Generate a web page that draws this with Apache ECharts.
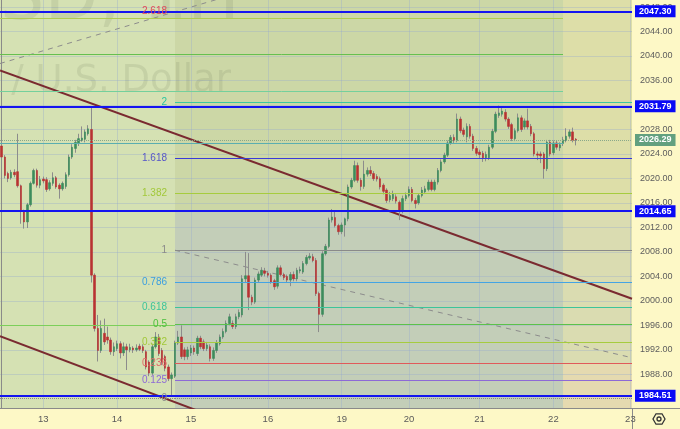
<!DOCTYPE html>
<html><head><meta charset="utf-8">
<script src="https://cdn.jsdelivr.net/npm/echarts@6/dist/echarts.min.js"></script>
<style>html,body{margin:0;padding:0;background:#fdf8c6;}#c{width:680px;height:429px;}</style>
</head><body><div id="c"></div>
<script>
// ---- data (XAUUSD, 1H) ----
const opens = [2025.3,2023.5,2020.8,2020.1,2021.0,2021.1,2018.8,2014.6,2012.9,2015.7,2019.2,2021.3,2018.9,2019.9,2019.8,2018.3,2019.2,2020.1,2018.9,2018.3,2018.7,2020.6,2023.5,2024.9,2025.7,2026.2,2026.4,2027.3,2028.0,2004.2,1995.5,1991.9,1994.7,1994.1,1993.6,1991.7,1992.2,1993.0,1991.5,1992.5,1992.0,1992.3,1992.0,1992.6,1992.5,1991.7,1990.0,1988.2,1992.5,1994.1,1991.9,1990.9,1989.2,1987.3,1987.7,1993.1,1994.1,1992.0,1990.9,1991.5,1992.3,1991.4,1993.9,1993.3,1992.2,1992.5,1990.6,1991.9,1993.0,1994.1,1995.0,1996.3,1996.3,1995.8,1997.4,1997.7,2003.6,2004.1,2000.6,1999.8,2003.4,2004.2,2004.9,2004.5,2004.2,2003.3,2002.4,2005.4,2004.3,2004.0,2003.4,2004.3,2003.6,2004.9,2004.7,2006.1,2007.0,2007.2,2006.6,2001.2,1997.8,2007.7,2008.9,2013.2,2013.6,2012.3,2011.3,2012.4,2013.4,2018.6,2019.7,2022.1,2019.7,2018.7,2020.7,2021.3,2020.8,2020.3,2019.95,2018.9,2018.1,2016.5,2016.7,2017.0,2016.1,2014.7,2016.7,2017.2,2018.2,2016.4,2016.0,2017.2,2017.8,2018.2,2019.4,2018.2,2019.4,2021.3,2022.7,2023.8,2025.8,2026.7,2026.2,2029.7,2027.9,2026.8,2028.5,2026.9,2024.9,2024.3,2024.1,2023.4,2023.4,2025.1,2027.7,2030.3,2030.5,2030.8,2029.7,2028.8,2026.5,2027.8,2029.9,2028.4,2029.4,2028.5,2027.3,2024.0,2024.0,2024.0,2021.6,2025.9,2024.2,2025.8,2025.0,2025.7,2026.2,2026.9,2027.6,2026.4];
const closes = [2023.5,2020.5,2020.0,2021.0,2020.6,2018.8,2014.6,2012.9,2015.7,2019.2,2021.3,2018.9,2019.8,2019.6,2018.2,2019.3,2020.1,2018.6,2018.3,2019.2,2020.6,2023.5,2025.1,2025.9,2026.5,2026.6,2027.6,2028.1,2004.2,1995.5,1991.9,1995.5,1993.3,1993.6,1991.7,1992.5,1993.0,1991.5,1992.5,1992.0,1992.4,1992.0,1992.3,1992.1,1991.9,1989.2,1988.2,1992.5,1994.1,1991.4,1990.0,1989.0,1987.3,1987.9,1993.1,1994.1,1990.9,1990.9,1992.0,1992.3,1991.7,1993.9,1992.5,1992.2,1992.8,1990.6,1991.9,1993.1,1994.1,1995.0,1996.3,1997.4,1995.8,1997.4,1998.1,2003.6,2004.1,2000.6,1999.8,2003.4,2004.4,2005.0,2004.5,2004.2,2003.1,2002.3,2005.4,2004.3,2003.8,2003.4,2004.3,2003.6,2005.0,2005.1,2006.1,2007.1,2007.3,2006.6,2001.2,1997.8,2007.7,2008.9,2013.2,2013.7,2012.3,2011.3,2012.4,2013.4,2018.6,2019.7,2022.1,2019.7,2018.7,2020.7,2021.3,2020.8,2019.95,2019.9,2018.6,2017.9,2016.4,2017.2,2017.4,2016.3,2014.7,2016.7,2017.2,2018.2,2016.4,2015.9,2017.2,2018.1,2018.3,2019.4,2018.2,2019.4,2021.3,2022.7,2023.8,2025.8,2026.7,2026.2,2029.7,2027.8,2027.2,2028.5,2026.9,2024.9,2024.1,2023.9,2023.4,2023.9,2025.1,2027.7,2030.5,2030.7,2031.0,2029.7,2028.5,2026.5,2027.8,2029.9,2028.0,2029.4,2028.4,2027.3,2024.0,2023.8,2023.7,2021.6,2025.9,2024.0,2025.8,2025.1,2025.5,2026.3,2026.9,2027.6,2026.2,2026.29];
const lows = [2023.2,2020.0,2019.4,2019.8,2020.2,2018.5,2012.6,2011.8,2011.9,2015.4,2019.0,2018.5,2018.4,2019.2,2017.8,2018.0,2018.8,2018.3,2016.7,2018.0,2018.3,2020.3,2023.2,2024.2,2025.3,2026.0,2025.9,2027.0,2003.0,1995.0,1990.1,1991.5,1992.8,1993.0,1991.2,1991.0,1991.8,1990.6,1991.0,1988.7,1991.6,1991.5,1991.7,1991.8,1991.5,1988.8,1987.7,1987.9,1992.2,1991.0,1989.5,1988.5,1986.9,1984.6,1987.4,1992.8,1990.5,1990.3,1990.4,1991.0,1991.2,1991.0,1992.1,1991.8,1991.8,1990.1,1990.2,1991.5,1992.7,1993.8,1994.7,1996.0,1995.4,1995.4,1997.0,1997.3,2003.0,1998.5,1999.3,1999.5,2003.0,2003.9,2004.0,2003.8,2002.8,2001.8,2002.0,2004.0,2003.4,2003.0,2002.4,2003.2,2003.2,2004.5,2004.4,2005.8,2006.7,2006.3,2000.8,1994.9,1997.4,2007.4,2008.6,2012.8,2012.0,2010.8,2010.9,2010.5,2013.0,2018.3,2019.4,2019.3,2018.0,2018.3,2020.3,2020.4,2019.6,2019.5,2018.2,2017.4,2016.0,2016.1,2016.3,2015.9,2013.2,2014.3,2016.3,2016.9,2016.1,2015.1,2015.7,2016.9,2017.5,2017.9,2017.9,2017.9,2019.0,2021.0,2022.4,2023.5,2025.5,2025.8,2025.9,2027.4,2026.8,2025.9,2026.5,2024.5,2023.7,2023.3,2022.7,2022.8,2023.0,2024.8,2027.4,2029.9,2030.1,2029.3,2028.1,2026.1,2026.1,2027.5,2027.6,2028.0,2028.0,2026.9,2023.6,2023.0,2022.5,2019.96,2021.2,2023.6,2023.8,2024.7,2024.5,2025.3,2025.9,2026.5,2025.9,2025.4];
const highs = [2027.1,2023.8,2021.1,2021.4,2021.5,2027.3,2019.0,2014.9,2016.0,2019.5,2021.6,2021.6,2020.4,2020.3,2020.2,2019.7,2021.0,2020.4,2019.2,2019.5,2021.0,2023.9,2025.6,2026.3,2027.3,2028.5,2028.0,2028.7,2031.5,2004.5,1997.7,1996.8,1997.1,1995.8,1994.0,1993.2,1993.5,1993.4,1993.2,1993.0,1993.0,1992.6,1992.9,1993.0,1992.9,1992.0,1990.3,1993.0,1994.9,1994.6,1992.3,1991.2,1989.6,1988.3,1993.5,1995.1,1996.0,1992.4,1992.5,1992.8,1992.7,1994.3,1994.3,1993.7,1993.3,1992.9,1992.4,1993.6,1994.5,1995.5,1996.8,1997.9,1996.8,1997.9,1998.6,2004.2,2008.0,2007.8,2001.0,2003.8,2004.8,2005.5,2005.4,2004.9,2004.5,2003.6,2005.8,2005.8,2004.6,2004.3,2004.7,2004.8,2005.4,2005.6,2006.5,2007.5,2007.8,2007.7,2007.0,2001.5,2008.1,2009.3,2013.6,2015.0,2014.8,2012.6,2012.8,2013.6,2019.0,2020.1,2022.9,2022.6,2020.1,2022.9,2021.8,2022.0,2021.2,2020.7,2020.3,2019.2,2018.4,2017.8,2018.0,2017.4,2016.4,2017.2,2017.7,2018.7,2018.6,2016.8,2017.6,2018.6,2018.8,2019.8,2019.8,2019.8,2021.7,2023.1,2024.2,2026.2,2027.1,2027.2,2030.6,2030.1,2028.3,2029.0,2028.9,2027.3,2025.3,2024.7,2024.5,2024.4,2025.5,2028.1,2030.9,2031.9,2031.5,2031.3,2030.0,2029.1,2028.2,2030.6,2030.3,2029.8,2031.4,2028.9,2027.6,2024.4,2024.4,2024.3,2026.3,2026.3,2026.2,2026.2,2025.9,2026.8,2028.2,2028.0,2028.3,2026.6];

const dayTickIndex = [13, 36, 59, 83, 106, 127, 149, 172, 196];
const dayTickLabels = ['13', '14', '15', '16', '19', '20', '21', '22', '23'];
const priceTicks = [1988, 1992, 1996, 2000, 2004, 2008, 2012, 2016, 2020, 2024, 2028, 2032, 2036, 2040, 2044, 2048];

const fibLabels = ['0', '0.125', '0.236', '0.382', '0.5', '0.618', '0.786', '1', '1.382', '1.618', '2', '2.618'];
const fibPrices = [1984.03, 1987.06, 1989.78, 1993.29, 1996.15, 1999.01, 2003.10, 2008.27, 2017.52, 2023.25, 2032.45, 2047.38];
const keyLevels = [2047.30, 2031.79, 2014.65, 1984.51];
const lastPrice = 2026.29;
const leftLevels = [2046.11, 2040.24, 2034.21, 2025.77, 1995.95];

const channelUpper = [[-0.5, 2037.63], [196.5, 2000.34]];
const channelLower = [[-0.5, 1994.24], [72, 1979.9]];
const trendDashUpper = [[-0.5, 2038.77], [72, 2050.0]];
const trendDashLower = [[54.05, 2008.27], [196.5, 1990.71]];

// ---- styling / layout ----
const X_MIN = -0.5, X_MAX = 196.5, Y_MIN = 1982.5, Y_MAX = 2049.15;
const BOX_START = 54.05, BOX_END = 175;
const FONT = 'Liberation Sans, Arial, sans-serif';
const WM_FONT = 'DejaVu Sans, Verdana, sans-serif';
const fibColors = ['#8a8a8a', '#8d6ad6', '#e05a5a', '#a6cc3e', '#5cc24a', '#3cc49a', '#44a4e4', '#8a8a8a', '#a6cc3e', '#3a3ad8', '#3cc8a0', '#e04a5a'];
const fibLabelColors = ['#8a8a8a', '#8d6ad6', '#e06a6a', '#a2c83a', '#4cc03c', '#3cc49a', '#3a9ee0', '#8a8a8a', '#a2c83a', '#5656c8', '#2cc4a0', '#e04a5a'];
const leftColors = ['#b0cc50', '#66c050', '#74d09c', '#5aaeb0', '#7ccf5a'];
const UP = '#3d8c5c', DOWN = '#b83232', WICK = '#8c8c8c';

const candleData = opens.map((o, i) => [i, o, closes[i], lows[i], highs[i]]);
const bodyData = opens.map((o, i) => [i, o, closes[i], Math.min(o, closes[i]), Math.max(o, closes[i])]);

function hLine(x0, x1, v, lineStyle, label) {
  return [{ coord: [x0, v], lineStyle: lineStyle, label: label || { show: false } }, { coord: [x1, v] }];
}
function boxLabel(txt, bg) {
  return { show: true, position: 'end', formatter: txt, backgroundColor: bg, color: '#ffffff',
    fontSize: 9, fontWeight: 'bold', fontFamily: FONT, padding: [2, 4, 1, 4], distance: 3 };
}

const lineMarks = [];
leftLevels.forEach((v, i) => {
  const x1 = i === 4 ? BOX_START : BOX_END;
  lineMarks.push(hLine(X_MIN, x1, v, { color: leftColors[i], width: 1, type: 'solid' }));
});
lineMarks.push(hLine(X_MIN, BOX_START, fibPrices[0], { color: fibColors[0], width: 1, type: 'dotted' }));
fibPrices.forEach((v, i) => {
  lineMarks.push(hLine(BOX_START, X_MAX, v,
    { color: fibColors[i], width: 1, type: i === 0 ? 'dotted' : 'solid' },
    { show: true, position: 'start', formatter: fibLabels[i], color: fibLabelColors[i], fontSize: 10, fontFamily: FONT, distance: 8 }));
});
keyLevels.forEach(v => {
  lineMarks.push(hLine(X_MIN, X_MAX, v, { color: '#1414f0', width: 2, type: 'solid' }, boxLabel(v.toFixed(2), '#0a0af5')));
});
lineMarks.push(hLine(X_MIN, X_MAX, lastPrice, { color: '#8aa88a', width: 1, type: 'dotted' }, boxLabel(lastPrice.toFixed(2), '#62a07f')));

const zones = [
  [BOX_START, BOX_END, 2014.65, Y_MAX, '#ccd7a6'],
  [BOX_START, BOX_END, Y_MIN, 2014.65, '#c3ceb8'],
  [BOX_END, X_MAX, 2014.65, Y_MAX, '#dddea8'],
  [BOX_END, X_MAX, 1989.78, 2014.65, '#dadcb1'],
  [BOX_END, X_MAX, Y_MIN, 1989.78, '#e5dab0']
];

const chart = echarts.init(document.getElementById('c'), null, { renderer: 'canvas' });
chart.setOption({
  animation: false,
  backgroundColor: '#fdf8c6',
  grid: { left: 0, right: 48, top: 0, bottom: 21, show: true, backgroundColor: '#d5e1b3', borderWidth: 0 },
  xAxis: {
    type: 'value', min: X_MIN, max: X_MAX, z: 1.5,
    axisLine: { show: true, onZero: false, lineStyle: { color: '#8a8a8a' } },
    axisTick: { show: false, customValues: dayTickIndex },
    axisLabel: { customValues: dayTickIndex, formatter: v => dayTickLabels[dayTickIndex.indexOf(v)] || '',
      color: '#5a5a5a', fontSize: 9.5, fontFamily: FONT, margin: 6 },
    splitLine: { show: true, lineStyle: { color: 'rgba(150,170,205,0.35)', width: 1 } }
  },
  yAxis: {
    type: 'value', position: 'right', min: Y_MIN, max: Y_MAX, z: 1.5, scale: true,
    axisLine: { show: true, lineStyle: { color: '#8a8a8a' } },
    axisTick: { show: false, customValues: priceTicks },
    axisLabel: { customValues: priceTicks, formatter: v => v.toFixed(2), color: '#5d5d5d', fontSize: 9, fontFamily: FONT, margin: 8 },
    splitLine: { show: true, lineStyle: { color: 'rgba(150,170,205,0.35)', width: 1 } }
  },
  graphic: [
    { type: 'text', x: 240, y: 1, z: 1.6, silent: true,
      style: { text: 'XAUUSD, 1H', font: '70px ' + WM_FONT, fill: 'rgba(60,70,50,0.10)', align: 'right', verticalAlign: 'middle' } },
    { type: 'text', x: 231, y: 81, z: 1.6, silent: true,
      style: { text: 'Gold Spot / U.S. Dollar', font: '37px ' + WM_FONT, fill: 'rgba(60,70,50,0.10)', align: 'right', verticalAlign: 'middle' } },
    { type: 'line', shape: { x1: 632.5, y1: 408, x2: 632.5, y2: 429 }, style: { stroke: '#8a8a8a', lineWidth: 1 } },
    { type: 'line', shape: { x1: 632, y1: 408.5, x2: 680, y2: 408.5 }, style: { stroke: '#8a8a8a', lineWidth: 1 } },
    { type: 'polygon', shape: { points: [[665, 419], [662, 413.8], [656, 413.8], [653, 419], [656, 424.2], [662, 424.2]] },
      style: { fill: 'none', stroke: '#333', lineWidth: 1.3 } },
    { type: 'circle', shape: { cx: 659, cy: 419, r: 2 }, style: { fill: 'none', stroke: '#333', lineWidth: 1.3 } }
  ],
  series: [
    { type: 'line', name: 'zones', data: [], z: 1, silent: true,
      markArea: { silent: true, data: zones.map(z => [{ coord: [z[0], z[3]], itemStyle: { color: z[4], opacity: 1 } }, { coord: [z[1], z[2]] }]) } },
    { type: 'line', name: 'levels', data: [], z: 2, clip: false, silent: true,
      markLine: { silent: true, symbol: ['none', 'none'], animation: false, data: lineMarks } },
    { type: 'line', data: channelUpper, z: 2, symbol: 'none', clip: true, lineStyle: { color: '#7a2a30', width: 2 } },
    { type: 'line', data: channelLower, z: 2, symbol: 'none', clip: true, lineStyle: { color: '#7a2a30', width: 2 } },
    { type: 'line', data: trendDashUpper, z: 2, symbol: 'none', clip: true, lineStyle: { color: '#8c8c8c', width: 1, type: [5, 5] } },
    { type: 'line', data: trendDashLower, z: 2, symbol: 'none', clip: true, lineStyle: { color: '#8c8c8c', width: 1, type: [5, 5] } },
    { type: 'candlestick', name: 'wicks', data: candleData, z: 3, barWidth: 0.5,
      itemStyle: { color: WICK, color0: WICK, borderColor: WICK, borderColor0: WICK, borderWidth: 1 } },
    { type: 'candlestick', name: 'bodies', data: bodyData, z: 4, barWidth: 2,
      itemStyle: { color: UP, color0: DOWN, borderColor: UP, borderColor0: DOWN, borderWidth: 0.6 } }
  ]
});
</script></body></html>
